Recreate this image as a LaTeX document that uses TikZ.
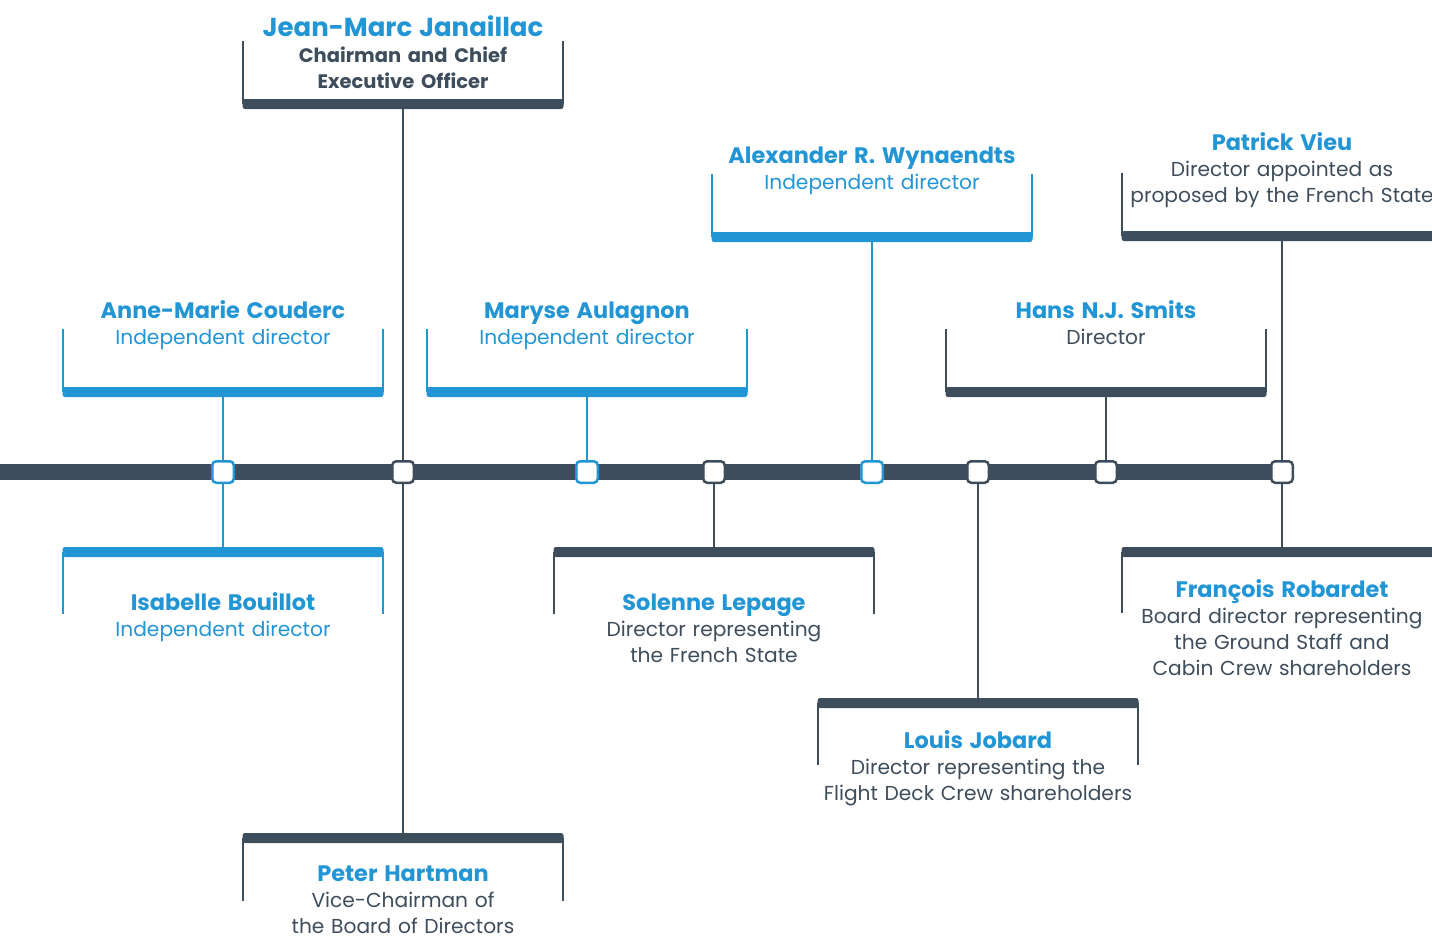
\documentclass[tikz,border=0pt]{standalone}
\usepackage{fontspec}
\setmainfont{Poppins}
\definecolor{sky}{RGB}{34,149,212}
\definecolor{slate}{RGB}{62,77,92}
\newcommand{\nm}{\fontsize{22.4}{26}\selectfont\bfseries\color{sky}}
\newcommand{\bignm}{\fontsize{26}{26}\selectfont\bfseries\color{sky}}
\newcommand{\rolefont}{\fontsize{20.2}{26}\selectfont}
\tikzstyle{sq}=[rectangle, draw=slate, fill=white, line width=2.5pt, rounded corners=4pt, minimum size=21.5pt, inner sep=0pt]
\tikzstyle{sqb}=[sq, draw=sky]
\tikzstyle{bar}=[rectangle, fill=slate, rounded corners=2.5pt, minimum width=321pt, minimum height=10pt, inner sep=0pt]
\tikzstyle{barb}=[bar, fill=sky]
\tikzstyle{side}=[line width=2pt, slate]
\tikzstyle{sideb}=[side, sky]
\tikzstyle{link}=[line width=2.5pt, slate]
\tikzstyle{linkb}=[link, sky]
\tikzstyle{whod}=[text width=420pt, align=center, anchor=base, inner sep=0pt, font=\rolefont, text=slate]
\tikzstyle{whob}=[whod, text=sky]

\begin{document}
\begin{tikzpicture}[x=1pt, y=-1pt]
\useasboundingbox[fill=white] (0, 0) rectangle (1432, 937);
\coordinate (t0) at (0, 472);
\coordinate (t1) at (1282, 472);
\draw[slate, line width=16pt] (t0) -- (t1);
\node[sqb] at (223, 472) (s1) {};
\node[sq] at (403, 472) (s2) {};
\node[sqb] at (587, 472) (s3) {};
\node[sq] at (714, 472) (s4) {};
\node[sqb] at (872, 472) (s5) {};
\node[sq] at (978, 472) (s6) {};
\node[sq] at (1106, 472) (s7) {};
\node[sq] at (1282, 472) (s8) {};
% boxes above the line
\node[bar] at (403, 104) (jm) {};
\draw[side] ([xshift=1pt]jm.west) -- +(0, -63);
\draw[side] ([xshift=-1pt]jm.east) -- +(0, -63);
\node[whod] at (403, 36) (jmt) {{\bignm Jean-Marc Janaillac}\\ \fontsize{19.5}{26}\selectfont\bfseries Chairman and Chief\\ \fontsize{19.5}{26}\selectfont\bfseries Executive Officer};
\node[barb] at (223, 392) (amc) {};
\draw[sideb] ([xshift=1pt]amc.west) -- +(0, -63);
\draw[sideb] ([xshift=-1pt]amc.east) -- +(0, -63);
\node[whob] at (223, 318) (amct) {{\nm Anne-Marie Couderc}\\ Independent director};
\node[barb] at (587, 392) (ma) {};
\draw[sideb] ([xshift=1pt]ma.west) -- +(0, -63);
\draw[sideb] ([xshift=-1pt]ma.east) -- +(0, -63);
\node[whob] at (587, 318) (mat) {{\nm Maryse Aulagnon}\\ Independent director};
\node[barb] at (872, 237) (aw) {};
\draw[sideb] ([xshift=1pt]aw.west) -- +(0, -63);
\draw[sideb] ([xshift=-1pt]aw.east) -- +(0, -63);
\node[whob] at (872, 163) (awt) {{\nm Alexander R. Wynaendts}\\ Independent director};
\node[bar] at (1106, 392) (hs) {};
\draw[side] ([xshift=1pt]hs.west) -- +(0, -63);
\draw[side] ([xshift=-1pt]hs.east) -- +(0, -63);
\node[whod] at (1106, 318) (hst) {{\nm Hans N.J. Smits}\\ Director};
\node[bar] at (1282, 236) (pv) {};
\draw[side] ([xshift=1pt]pv.west) -- +(0, -63);
\node[whod] at (1282, 150) (pvt) {{\nm Patrick Vieu}\\ Director appointed as\\ proposed by the French State};
% boxes below the line
\node[barb] at (223, 552) (ib) {};
\draw[sideb] ([xshift=1pt]ib.west) -- +(0, 62);
\draw[sideb] ([xshift=-1pt]ib.east) -- +(0, 62);
\node[whob] at (223, 610) (ibt) {{\nm Isabelle Bouillot}\\ Independent director};
\node[bar] at (714, 552) (sl) {};
\draw[side] ([xshift=1pt]sl.west) -- +(0, 62);
\draw[side] ([xshift=-1pt]sl.east) -- +(0, 62);
\node[whod] at (714, 610) (slt) {{\nm Solenne Lepage}\\ Director representing\\ the French State};
\node[bar] at (978, 703) (lj) {};
\draw[side] ([xshift=1pt]lj.west) -- +(0, 62);
\draw[side] ([xshift=-1pt]lj.east) -- +(0, 62);
\node[whod] at (978, 748) (ljt) {{\nm Louis Jobard}\\ Director representing the\\ Flight Deck Crew shareholders};
\node[bar] at (403, 838) (ph) {};
\draw[side] ([xshift=1pt]ph.west) -- +(0, 63);
\draw[side] ([xshift=-1pt]ph.east) -- +(0, 63);
\node[whod] at (403, 881) (pht) {{\nm Peter Hartman}\\ Vice-Chairman of\\ the Board of Directors};
\node[bar] at (1282, 552) (fr) {};
\draw[side] ([xshift=1pt]fr.west) -- +(0, 61);
\node[whod] at (1282, 597) (frt) {{\nm François Robardet}\\ Board director representing\\ the Ground Staff and\\ Cabin Crew shareholders};
% links
\draw[link] (jm.south) -- (s2.north);
\draw[link] (s2.south) -- (ph.north);
\draw[linkb] (amc.south) -- (s1.north);
\draw[linkb] (s1.south) -- (ib.north);
\draw[linkb] (ma.south) -- (s3.north);
\draw[link] (s4.south) -- (sl.north);
\draw[linkb] (aw.south) -- (s5.north);
\draw[link] (s6.south) -- (lj.north);
\draw[link] (hs.south) -- (s7.north);
\draw[link] (pv.south) -- (s8.north);
\draw[link] (s8.south) -- (fr.north);
\end{tikzpicture}
\end{document}
